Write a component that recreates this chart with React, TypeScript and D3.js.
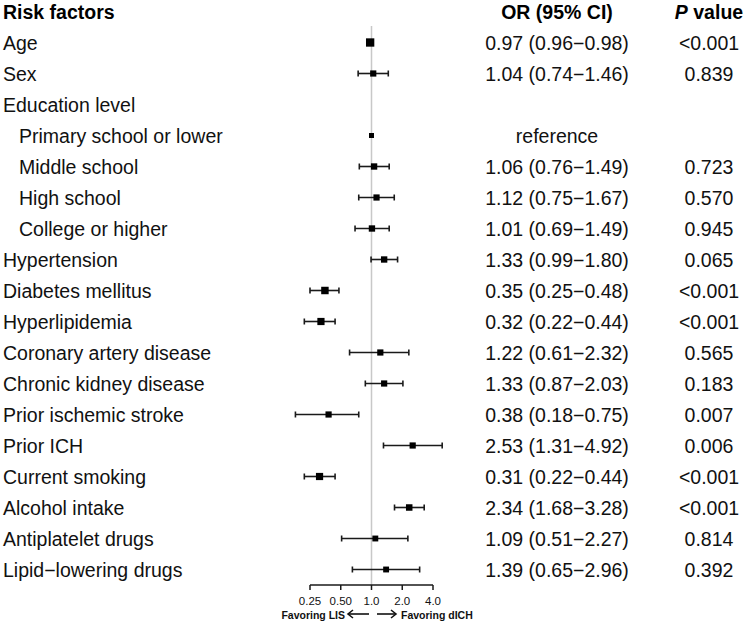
import * as d3 from "d3"

const labels = [
  "Age", "Sex", "Education level", "Primary school or lower", "Middle school", "High school",
  "College or higher", "Hypertension", "Diabetes mellitus", "Hyperlipidemia", "Coronary artery disease",
  "Chronic kidney disease", "Prior ischemic stroke", "Prior ICH", "Current smoking", "Alcohol intake",
  "Antiplatelet drugs", "Lipid\u2212lowering drugs",
]
const indented = [0, 0, 0, 1, 1, 1, 1, 0, 0, 0, 0, 0, 0, 0, 0, 0, 0, 0]
const orValues = [0.97, 1.04, null, 1, 1.06, 1.12, 1.01, 1.33, 0.35, 0.32, 1.22, 1.33, 0.38, 2.53, 0.31, 2.34, 1.09, 1.39]
const ciLow = [0.96, 0.74, null, null, 0.76, 0.75, 0.69, 0.99, 0.25, 0.22, 0.61, 0.87, 0.18, 1.31, 0.22, 1.68, 0.51, 0.65]
const ciHigh = [0.98, 1.46, null, null, 1.49, 1.67, 1.49, 1.8, 0.48, 0.44, 2.32, 2.03, 0.75, 4.92, 0.44, 3.28, 2.27, 2.96]
// relative box weights
const weights = [1.8, 1, null, 0.65, 1.05, 1, 1.05, 1.05, 1.45, 1.35, 1, 1, 1, 1, 1.35, 1.1, 0.9, 0.9]
const pValues = ["<0.001", "0.839", "", "", "0.723", "0.570", "0.945", "0.065", "<0.001", "<0.001", "0.565", "0.183", "0.007", "0.006", "<0.001", "<0.001", "0.814", "0.392"]
const ticks = [0.25, 0.5, 1, 2, 4]
const tickLabels = ["0.25", "0.50", "1.0", "2.0", "4.0"]

const W = 751
const H = 626
const font = "Liberation Sans, Arial, Helvetica, sans-serif"
const fmt = (v: number) => v.toFixed(2)

export default function App() {
  const x = d3.scaleLog().base(2).domain([0.25, 4]).range([310, 433])
  const y = d3.scaleLinear().domain([0, 1]).range([42.5, 73.5]) // row index -> box centre
  const box = d3.scaleSqrt().domain([0, 1]).range([0, 6.2])
  const axisY = 585
  const lineTop = 26
  const capH = 3

  const orText = (i: number) => {
    const o = orValues[i]
    if (o == null) return ""
    if (ciLow[i] == null) return "reference"
    return `${fmt(o)} (${fmt(ciLow[i] as number)}\u2212${fmt(ciHigh[i] as number)})`
  }

  return (
    <svg width={W} height={H} style={{ position: "absolute", left: 0, top: 0 }} fontFamily={font}>
      <rect width={W} height={H} fill="#fff" />
      {/* headers */}
      <text x={3} y={19} fontSize={19.5} fontWeight="bold" fill="#000">Risk factors</text>
      <text x={557} y={19} fontSize={19.5} fontWeight="bold" textAnchor="middle" fill="#000">OR (95% CI)</text>
      <text x={709} y={19} fontSize={19.5} fontWeight="bold" textAnchor="middle" fill="#000">
        <tspan fontStyle="italic">P</tspan> value
      </text>

      {/* reference line */}
      <line x1={x(1)} x2={x(1)} y1={lineTop} y2={axisY} stroke="#c8c8c8" strokeWidth={1.5} />

      {labels.map((lab, i) => {
        const cy = y(i)
        const o = orValues[i]
        const lo = ciLow[i]
        const hi = ciHigh[i]
        const s = weights[i] != null ? box(weights[i] as number) : 0
        return (
          <g key={lab}>
            <text x={indented[i] ? 19 : 3} y={cy + 7.5} fontSize={19.5} fill="#111">{lab}</text>
            <text x={557} y={cy + 7.5} fontSize={19.5} textAnchor="middle" fill="#111">{orText(i)}</text>
            <text x={709} y={cy + 7.5} fontSize={19.5} textAnchor="middle" fill="#111">{pValues[i]}</text>
            {lo != null && hi != null && (
              <g stroke="#1a1a1a" strokeWidth={1.6}>
                <line x1={x(lo)} x2={x(hi)} y1={cy} y2={cy} />
                <line x1={x(lo)} x2={x(lo)} y1={cy - capH} y2={cy + capH} />
                <line x1={x(hi)} x2={x(hi)} y1={cy - capH} y2={cy + capH} />
              </g>
            )}
            {o != null && <rect x={x(o) - s / 2} y={cy - s / 2} width={s} height={s} fill="#000" />}
          </g>
        )
      })}

      {/* axis */}
      <g stroke="#1a1a1a" strokeWidth={1.5} fill="none">
        <line x1={x(0.25)} x2={x(4)} y1={axisY} y2={axisY} />
        {ticks.map((t) => (
          <line key={t} x1={x(t)} x2={x(t)} y1={axisY} y2={axisY + 5} />
        ))}
      </g>
      {ticks.map((t, i) => (
        <text key={t} x={x(t)} y={605} fontSize={11.5} textAnchor="middle" fill="#111">{tickLabels[i]}</text>
      ))}
      <text x={345} y={618.5} fontSize={10.5} fontWeight="bold" textAnchor="end" fill="#111">Favoring LIS</text>
      <text x={401} y={618.5} fontSize={10.5} fontWeight="bold" fill="#111">Favoring dICH</text>
      <g stroke="#111" strokeWidth={1.6} fill="none">
        <line x1={369} x2={348} y1={614} y2={614} />
        <path d="M353,610 L348,614 L353,618" />
        <line x1={377} x2={396} y1={614} y2={614} />
        <path d="M391,610 L396,614 L391,618" />
      </g>
    </svg>
  )
}
